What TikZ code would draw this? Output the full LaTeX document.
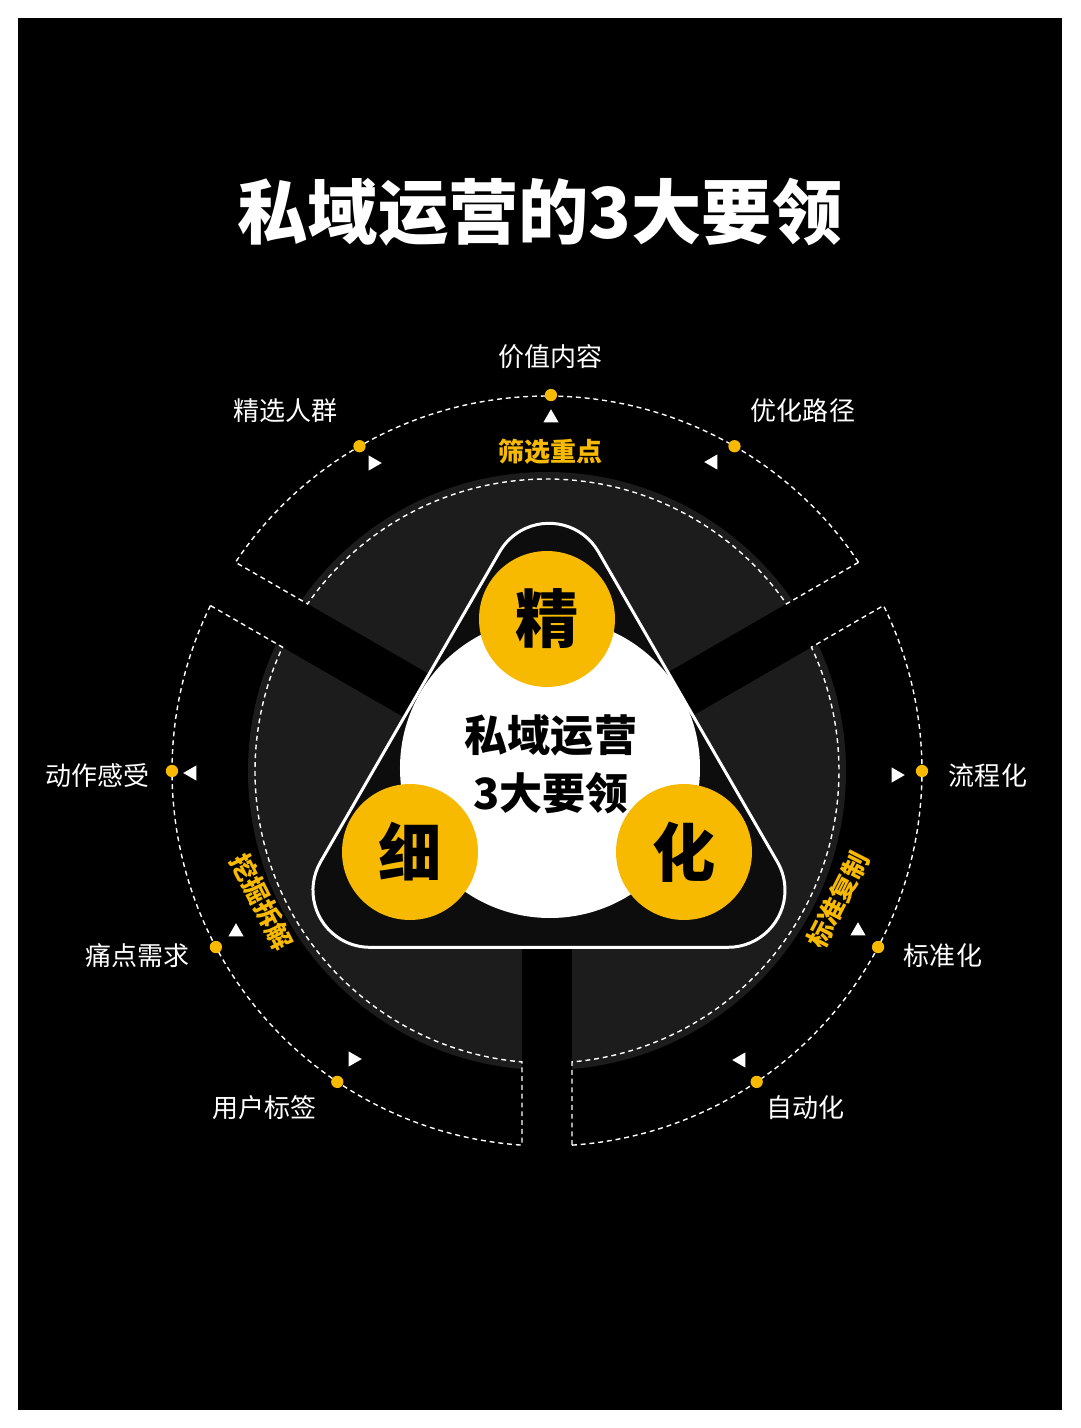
\documentclass[tikz,border=0pt]{standalone}
\usepackage{fontspec}
\setmainfont{Noto Sans CJK SC}
\usetikzlibrary{shapes.geometric}
\definecolor{gold}{RGB}{248,186,0}
\definecolor{diskgray}{RGB}{28,28,28}
\definecolor{trifill}{RGB}{13,13,13}

\begin{document}
\begin{tikzpicture}[x=0.02cm,y=0.02cm,
  sector/.style={draw=white,line width=0.8pt,dash pattern=on 2.8pt off 2.2pt},
  dot/.style={circle,fill=gold,minimum size=7pt,inner sep=0pt},
  tip/.style={regular polygon,regular polygon sides=3,fill=white,minimum size=10pt,inner sep=0pt},
  lbl/.style={text=white,font=\fontsize{14.8}{18}\selectfont},
  tag/.style={text=gold,font=\fontsize{14.8}{18}\selectfont\bfseries},
  key/.style={circle,fill=gold,minimum size=2.72cm,inner sep=0pt,font=\fontsize{36}{40}\selectfont\bfseries}
]
  \useasboundingbox (-547,-657) rectangle (533,771);
  \fill[white] (-547,-657) rectangle (533,771);
  \fill[black] (-529,753) rectangle (515,-639);

  \node[text=white,font=\fontsize{40}{48}\selectfont\bfseries] (title) at (-7,559) {私域运营的3大要领};

  % disk, spokes and the three bands
  \fill[diskgray] (0,0) circle[radius=299];
  \foreach \s in {30,150,270}
    \fill[black,rotate=\s] (0,-25) rectangle (310,25);
  \foreach \s in {30,150,270}
    \draw[sector] ({\s+3.82}:375) arc[start angle={\s+3.82}, end angle={\s+116.18}, radius=375]
      -- ({\s+115.09}:292) arc[start angle={\s+115.09}, end angle={\s+4.91}, radius=292] -- cycle;

  % core
  \draw[white,line width=1.7pt,fill=trifill]
    (181,-176.3) arc[start angle=-90, end angle=30, radius=57]
    -- (51.4,219.2) arc[start angle=30, end angle=150, radius=57]
    -- (-226.4,-90.8) arc[start angle=150, end angle=270, radius=57] -- cycle;
  \fill[white] (3,3) circle[radius=150];
  \node[key] (jing) at (0,152) {精};
  \node[key] (xi) at (-137,-81) {细};
  \node[key] (hua) at (137,-81) {化};
  \node[align=center,font=\fontsize{24.5}{33}\selectfont\bfseries] (core) at (4,7) {私域运营\\3大要领};

  % top band
  \node[dot] (dJx) at (120:375) {};
  \node[dot] (dJz) at (89.4:376) {};
  \node[dot] (dYh) at (60:375) {};
  \node[tip,rotate=-90] (tJx) at (-174,308) {};
  \node[tip] (tJz) at (4,353) {};
  \node[tip,rotate=90] (tYh) at (166,309) {};
  \node[lbl] (lJx) at (-261,360) {精选人群};
  \node[lbl] (lJz) at (4,414) {价值内容};
  \node[lbl] (lYh) at (256,360) {优化路径};
  \node[tag] (gTop) at (4,319) {筛选重点};

  % left band
  \node[dot] (dDz) at (180:375) {};
  \node[dot] (dTd) at (208:375) {};
  \node[dot] (dYh2) at (236:375) {};
  \node[tip,rotate=90] (tDz) at (-355,-2) {};
  \node[tip] (tTd) at (-311,-161) {};
  \node[tip,rotate=-90] (tYh2) at (-194,-288) {};
  \node[lbl] (lDz) at (-449,-5) {动作感受};
  \node[lbl] (lTd) at (-409,-185) {痛点需求};
  \node[lbl] (lYh2) at (-282,-337) {用户标签};
  \node[tag,rotate=-63] (gLeft) at (-285,-131) {挖掘拆解};

  % right band
  \node[dot] (dLc) at (0:375) {};
  \node[dot] (dBz) at (-28:375) {};
  \node[dot] (dZd) at (-56:375) {};
  \node[tip,rotate=-90] (tLc) at (349,-4) {};
  \node[tip] (tBz) at (311,-160) {};
  \node[tip,rotate=90] (tZd) at (194,-289) {};
  \node[lbl] (lLc) at (441,-5) {流程化};
  \node[lbl] (lBz) at (396,-185) {标准化};
  \node[lbl] (lZd) at (259,-337) {自动化};
  \node[tag,rotate=63] (gRight) at (291,-129) {标准复制};
\end{tikzpicture}
\end{document}
